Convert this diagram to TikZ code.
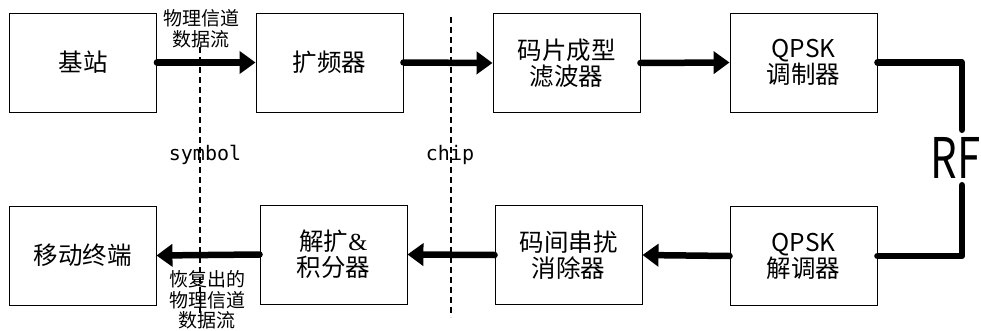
\documentclass[tikz,border=0pt]{standalone}
\usepackage{fontspec}
\setmainfont{Noto Sans CJK SC}
\newfontfamily\monofont{DejaVu Sans Mono}
\newfontfamily\seriffont{Liberation Serif}
\usetikzlibrary{arrows.meta}

\tikzset{
  block/.style={draw,line width=0.9pt,minimum width=147pt,minimum height=99pt,
    inner sep=0pt,align=center,font=\fontsize{24.5}{26}\selectfont},
  flow/.style={line width=6.5pt,line cap=round,-{Triangle[length=16pt,width=22pt]}},
  rfline/.style={line width=6.5pt,line cap=round,line join=round},
  border/.style={draw,line width=1.1pt,dash pattern=on 6pt off 4pt},
  lbl/.style={align=center,inner sep=0pt,font=\fontsize{19}{20.5}\selectfont}
}

\begin{document}
\begin{tikzpicture}[x=1pt,y=-1pt]
        \useasboundingbox (0,0) rectangle (981,331);

        % draw the blocks
        \foreach \name/\x/\y/\txt in {
            bs/83/62.5/基站, kp/329.5/62.5/扩频器,
            cp/566.5/63/{码片成型\\滤波器}, mod/803.5/62.5/{QPSK\\调制器},
            mt/82.5/255.5/移动终端, jk/333.5/254.5/{解扩{\seriffont\&}\\积分器},
            isi/568.5/255/{码间串扰\\消除器}, dem/803.5/256/{QPSK\\解调器}}
                \node[block] (\name) at (\x,\y) {\txt};

        % draw the transmit chain
        \draw[flow] (bs.east) -- (kp.west);
        \draw[flow] (kp.east) -- (cp.west);
        \draw[flow] (cp.east) -- (mod.west);

        % draw the radio link
        \node[inner xsep=0pt,inner ysep=7pt,font=\fontsize{56}{56}\selectfont] (rf) at (955.5,157.5) {\scalebox{0.75}[1]{RF}};
        \coordinate (rftop) at ([xshift=6.5pt]rf.north);
        \coordinate (rfbot) at ([xshift=6.5pt]rf.south);
        \draw[rfline] (mod.east) -| (rftop);
        \draw[rfline] (rfbot) |- (dem.east);

        % draw the receive chain
        \draw[flow] (dem.west) -- (isi.east);
        \draw[flow] (isi.west) -- (jk.east);
        \draw[flow] (jk.west) -- (mt.east);

        % draw the symbol and chip borders
        \coordinate (s1) at (200,47);
        \coordinate (s2) at (200,315);
        \coordinate (c1) at (451,17);
        \coordinate (c2) at (451,317);
        \draw[border] (s1) -- (s2);
        \draw[border] (c1) -- (c2);
        \node[font=\monofont\fontsize{20}{20}\selectfont] (sym) at (205,155) {symbol};
        \node[font=\monofont\fontsize{20}{20}\selectfont] (chip) at (450,155) {chip};

        % draw the data stream labels
        \node[lbl] (tx) at (201,29) {物理信道\\数据流};
        \node[lbl] (rx) at (207,300) {恢复出的\\物理信道\\数据流};

  \end{tikzpicture}
\end{document}
